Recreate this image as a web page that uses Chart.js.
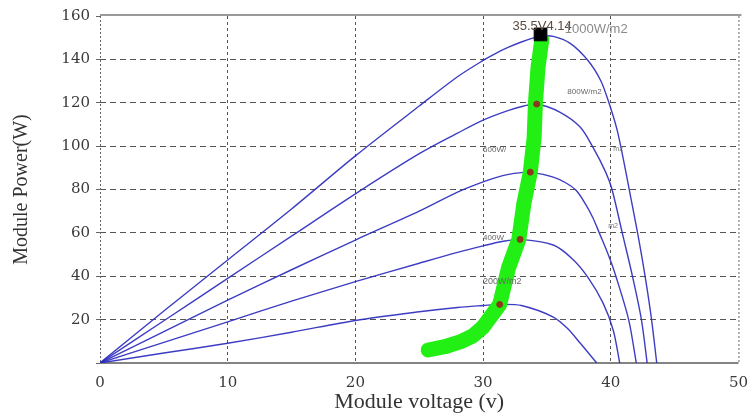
<!DOCTYPE html>
<html>
<head>
<meta charset="utf-8">
<title>Module power vs voltage</title>
<script src="https://cdn.jsdelivr.net/npm/chart.js@4.4.1/dist/chart.umd.min.js"></script>
<style>
    html, body { margin: 0; padding: 0; background: #fff; }
    #wrap { width: 755px; height: 419px; }
</style>
</head>
<body>
<div id="wrap"><canvas id="pvChart" width="755" height="419"></canvas></div>
<script>
// P-V curves, one pair of arrays per irradiance level
const v1000 = [0, 5, 10, 15, 20, 25, 28, 30, 31, 32, 33, 34, 34.6, 35.5, 36.8, 38.2, 39.2, 39.8, 40.5, 41, 41.5, 42.1, 42.7, 43.2, 43.6];
const p1000 = [0, 24, 47.5, 71, 95.5, 118.5, 132, 139.5, 142.8, 145.6, 148, 150, 150.8, 150.6, 147.5, 139.6, 130.4, 121, 107.4, 93.5, 78.3, 60, 39.6, 19.8, 0];

const v800 = [0, 5, 10, 15, 20, 25, 28, 30, 32, 33.2, 34.2, 36, 37.6, 38.6, 39.6, 40.1, 40.9, 41.7, 42.4, 42.85];
const p800 = [0, 19.5, 39, 58.5, 78, 96.5, 106, 112, 116.5, 118.5, 119.4, 115.7, 108.8, 99.5, 88, 80, 60, 40, 20, 0];

const v600 = [0, 5, 10, 15, 20, 25, 28, 30, 31, 32, 33, 33.7, 35.5, 36.5, 37.3, 38, 38.6, 39.1, 39.8, 40.4, 41.4, 42.0];
const p600 = [0, 14.5, 29, 43, 56.7, 70, 78.8, 83.5, 85.5, 87, 87.8, 88, 85.7, 83, 79.5, 73.5, 67, 60, 50, 40, 20, 0];

const v400 = [0, 5, 10, 15, 20, 25, 28, 30, 31.5, 32.9, 35.5, 37, 38.2, 39.4, 40.2, 40.7];
const p400 = [0, 9.5, 19, 28.5, 37.5, 46, 51, 54, 56, 57, 54.4, 48, 39.6, 27.6, 15, 0];

const v200 = [0, 5, 10, 15, 20, 25, 28, 30, 31.3, 33, 35.5, 36.6, 37.6, 38.9];
const p200 = [0, 4.6, 9.1, 14.2, 19.6, 23.6, 25.6, 26.5, 27, 26.5, 21.2, 16, 9.2, 0];

// MPPT track (green band)
const vTrack = [25.7, 27, 28.2, 29.2, 30, 31.3, 32, 32.8, 33.2, 33.7, 34, 34.1, 34.3, 34.6];
const pTrack = [6, 7.5, 9.7, 12.5, 16.6, 27, 44, 57, 73.7, 88, 104, 119.8, 136, 149];

// maximum power points
const vMpp = [34.2, 33.7, 32.9, 31.3];
const pMpp = [119.4, 88, 57, 27];
const vMax = [34.5];
const pMax = [151.5];

const xTicks = [0, 10, 20, 30, 40, 50];
const yTicks = [20, 40, 60, 80, 100, 120, 140, 160];

const toPoints = (xs, ys) => xs.map((x, i) => ({ x: x, y: ys[i] }));

const curveColor = 'rgba(45, 45, 190, 0.92)';

function curve(label, xs, ys) {
    return {
        label: label,
        data: toPoints(xs, ys),
        showLine: true,
        borderColor: curveColor,
        borderWidth: 1.4,
        pointRadius: 0,
        tension: 0.3,
        fill: false,
        order: 5
    };
}

// small text notes placed in data units
const notes = [
    { v: 32.3, p: 153.5, text: '35.5V4.14', size: 13, color: '#5c4c40' },
    { v: 36.4, p: 152, text: '1000W/m2', size: 13, color: '#8a8a8a' },
    { v: 36.6, p: 124, text: '800W/m2', size: 8, color: '#666' },
    { v: 30.0, p: 97.2, text: '600W/', size: 8, color: '#666' },
    { v: 30.0, p: 56.7, text: '400W', size: 8, color: '#666' },
    { v: 30.0, p: 36.4, text: '200W/m2', size: 9, color: '#666' },
    { v: 40.2, p: 97.7, text: 'm2', size: 7, color: '#777' },
    { v: 39.8, p: 62.2, text: 'm2', size: 7, color: '#777' }
];

// frame: solid top and bottom, dotted left and right
const framePlugin = {
    id: 'frame',
    beforeDatasetsDraw(chart) {
        const { ctx, chartArea: a } = chart;
        ctx.save();
        ctx.strokeStyle = '#9a9a9a';
        ctx.lineWidth = 2;
        ctx.beginPath();
        ctx.moveTo(a.left, a.top - 1);
        ctx.lineTo(a.right + 3, a.top - 1);
        ctx.stroke();

        ctx.strokeStyle = '#5a5a5a';
        ctx.lineWidth = 1.5;
        ctx.beginPath();
        ctx.moveTo(a.left, a.bottom);
        ctx.lineTo(a.right, a.bottom);
        ctx.stroke();

        ctx.strokeStyle = '#666';
        ctx.lineWidth = 1;
        ctx.setLineDash([2, 2]);
        ctx.beginPath();
        ctx.moveTo(a.left + 0.5, a.top);
        ctx.lineTo(a.left + 0.5, a.bottom);
        ctx.moveTo(a.right + 0.5, a.top);
        ctx.lineTo(a.right + 0.5, a.bottom);
        ctx.stroke();
        ctx.restore();
    },
    afterDatasetsDraw(chart) {
        const { ctx, scales } = chart;
        ctx.save();
        ctx.textBaseline = 'alphabetic';
        ctx.textAlign = 'left';
        notes.forEach(n => {
            ctx.font = n.size + 'px "Liberation Sans", Arial, sans-serif';
            ctx.fillStyle = n.color;
            ctx.fillText(n.text, scales.x.getPixelForValue(n.v), scales.y.getPixelForValue(n.p));
        });
        ctx.restore();
    }
};

const ctx = document.getElementById('pvChart').getContext('2d');

new Chart(ctx, {
    type: 'scatter',
    data: {
        datasets: [
            curve('1000 W/m2', v1000, p1000),
            curve('800 W/m2', v800, p800),
            curve('600 W/m2', v600, p600),
            curve('400 W/m2', v400, p400),
            curve('200 W/m2', v200, p200),
            {
                label: 'MPPT',
                data: toPoints(vTrack, pTrack),
                showLine: true,
                borderColor: '#22f014',
                borderWidth: 15,
                borderCapStyle: 'round',
                borderJoinStyle: 'round',
                pointRadius: 0,
                tension: 0,
                order: 3
            },
            {
                label: 'MPP',
                data: toPoints(vMpp, pMpp),
                pointStyle: 'circle',
                pointRadius: 3,
                backgroundColor: '#8a3a1c',
                borderColor: '#8a3a1c',
                order: 1
            },
            {
                label: 'Pmax',
                data: toPoints(vMax, pMax),
                pointStyle: 'rect',
                pointRadius: 9,
                backgroundColor: '#000',
                borderColor: '#000',
                order: 0
            }
        ]
    },
    options: {
        responsive: false,
        devicePixelRatio: 1,
        animation: false,
        layout: {
            padding: { top: 16, right: 15, left: 0, bottom: 0 }
        },
        plugins: {
            legend: { display: false },
            tooltip: { enabled: false }
        },
        scales: {
            x: {
                type: 'linear',
                min: 0,
                max: 50,
                afterFit: s => { s.height = 56; },
                afterBuildTicks: s => { s.ticks = xTicks.map(v => ({ value: v })); },
                grid: {
                    color: c => (c.tick && (c.tick.value === 0 || c.tick.value === 50)) ? 'rgba(0,0,0,0)' : '#555',
                    lineWidth: 1,
                    tickLength: 4,
                    tickColor: 'rgba(0,0,0,0)'
                },
                border: { display: false, dash: [3, 3] },
                ticks: {
                    padding: 7,
                    color: '#3a3a3a',
                    font: { family: '"DejaVu Serif", serif', size: 15 }
                },
                title: {
                    display: true,
                    text: 'Module voltage (v)',
                    color: '#333',
                    font: { family: '"Liberation Serif", "Times New Roman", serif', size: 22 },
                    padding: { top: 0, bottom: 4 }
                }
            },
            y: {
                type: 'linear',
                min: 0,
                max: 160,
                afterFit: s => { s.width = 100; },
                afterBuildTicks: s => { s.ticks = [0].concat(yTicks).map(v => ({ value: v })); },
                grid: {
                    color: c => (c.tick && (c.tick.value === 0 || c.tick.value === 160)) ? 'rgba(0,0,0,0)' : '#555',
                    lineWidth: 1,
                    tickLength: 4,
                    tickColor: '#666'
                },
                border: { display: false, dash: [6, 4] },
                ticks: {
                    padding: 6,
                    color: '#3a3a3a',
                    font: { family: '"DejaVu Serif", serif', size: 15 },
                    callback: v => (v === 0 ? '' : v)
                },
                title: {
                    display: true,
                    text: 'Module Power(W)',
                    color: '#333',
                    font: { family: '"Liberation Serif", "Times New Roman", serif', size: 20 },
                    padding: { top: 10, bottom: 0 }
                }
            }
        }
    },
    plugins: [framePlugin]
});
</script>
</body>
</html>
